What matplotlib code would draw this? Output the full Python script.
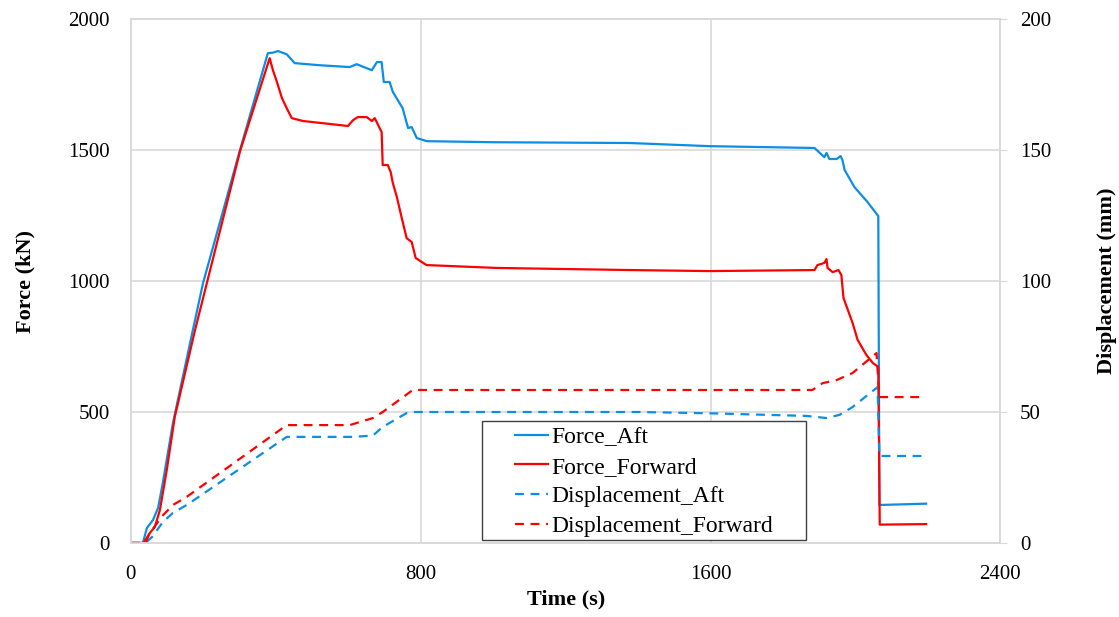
import matplotlib.pyplot as plt
from matplotlib.patches import Rectangle

plt.rcParams['font.family'] = ['Liberation Serif', 'DejaVu Serif']

# Force (kN) vs time (s)
t_force_aft = [0, 33, 44, 61, 75, 88, 116, 171, 199, 301, 378, 392, 406, 430, 452, 521, 604,
               623, 665, 679, 692, 698, 714, 723, 750, 765, 775, 789, 817, 1000, 1377, 1597,
               1887, 1914, 1920, 1928, 1948, 1959, 1964, 1970, 1997, 2033, 2063, 2066, 2195]
force_aft = [0, 0, 57, 88, 134, 229, 458, 813, 992, 1500, 1870, 1872, 1878, 1866, 1832, 1824, 1817,
             1828, 1805, 1836, 1836, 1760, 1760, 1722, 1660, 1584, 1588, 1546, 1534, 1530, 1527, 1515,
             1508, 1473, 1489, 1466, 1466, 1477, 1462, 1424, 1359, 1302, 1248, 145, 150]

t_force_fwd = [0, 35, 52, 66, 80, 99, 121, 177, 301, 383, 392, 403, 417, 430, 444, 475, 599, 613,
               626, 651, 665, 673, 692, 695, 709, 717, 723, 734, 747, 761, 775, 786, 816, 1010,
               1377, 1597, 1887, 1895, 1914, 1920, 1923, 1937, 1953, 1961, 1967, 1992, 2006, 2030,
               2048, 2063, 2067, 2195]
force_fwd = [0, 0, 38, 61, 126, 279, 481, 813, 1495, 1851, 1805, 1760, 1698, 1660, 1622, 1611, 1592, 1614,
             1626, 1626, 1611, 1622, 1569, 1443, 1443, 1416, 1374, 1321, 1244, 1164, 1149, 1088, 1061, 1050,
             1042, 1038, 1042, 1061, 1069, 1084, 1050, 1034, 1042, 1023, 935, 840, 775, 718,
             687, 672, 70, 72]

# Displacement (mm) vs time (s)
t_disp_aft = [0, 40, 60, 88, 116, 154, 430, 612, 668, 695, 761, 778, 1400, 1600, 1865, 1920, 1956,
              1992, 2061, 2066, 2182]
disp_aft = [0, 0, 2.5, 8, 11.5, 14.5, 40.5, 40.5, 41, 44.3, 49.6, 50, 50, 49.5, 48.5, 47.7, 48.9,
            51.9, 59.5, 33.2, 33.2]

t_disp_fwd = [0, 40, 52, 88, 116, 154, 430, 604, 668, 695, 778, 1881, 1909, 1948, 1992, 2058,
              2066, 2193]
disp_fwd = [0, 0, 3.8, 10.5, 14.5, 17.6, 45, 45, 47.7, 50, 58.4, 58.4, 61, 62.2, 64.9, 72.5,
            55.7, 55.7]

blue = '#0a8ee6'
red = '#ff0000'
grid_c = '#d9d9d9'

fig = plt.figure(figsize=(11.19, 6.17), dpi=100)
ax = fig.add_axes([0.117, 0.120, 0.777, 0.849])
ax2 = ax.twinx()

l1, = ax.plot(t_force_aft, force_aft, color=blue, lw=1.6, label='Force_Aft')
l2, = ax.plot(t_force_fwd, force_fwd, color=red, lw=1.6, label='Force_Forward')
l3, = ax2.plot(t_disp_aft, disp_aft, color=blue, lw=1.6, ls=(0, (4, 3)), label='Displacement_Aft')
l4, = ax2.plot(t_disp_fwd, disp_fwd, color=red, lw=1.6, ls=(0, (4, 3)), label='Displacement_Forward')

ax.set_xlim(0, 2400)
ax.set_ylim(0, 2000)
ax2.set_ylim(0, 200)
ax.set_xticks([0, 800, 1600, 2400])
ax.set_yticks([0, 500, 1000, 1500, 2000])
ax2.set_yticks([0, 50, 100, 150, 200])

ax.grid(True, color=grid_c, lw=1.2)
ax.set_axisbelow(True)
for a in (ax, ax2):
    for s in a.spines.values():
        s.set_color(grid_c)
        s.set_linewidth(1.2)
ax.tick_params(axis='y', length=0, labelsize=15, pad=15)
ax.tick_params(axis='x', length=0, labelsize=15, pad=16)
ax2.tick_params(axis='y', length=5, color=grid_c, labelsize=15, pad=9)

ax.set_xlabel('Time (s)', fontsize=16, fontweight='bold', labelpad=4)
ax.set_ylabel('Force (kN)', fontsize=16, fontweight='bold', labelpad=24)
ax2.set_ylabel('Displacement (mm)', fontsize=16, fontweight='bold', labelpad=33)

# legend box drawn separately so its padding matches the original
ax2.add_patch(Rectangle((0.404, 0.006), 0.373, 0.227, transform=ax2.transAxes,
                        facecolor='white', edgecolor='#404040', lw=1.0, zorder=4))
leg = ax2.legend(handles=[l1, l2, l3, l4], loc='center left', bbox_to_anchor=(0.442, 0.117),
                 fontsize=17, frameon=False, handlelength=1.4,
                 handletextpad=0.15, labelspacing=0.34, borderpad=0, borderaxespad=0)
leg.set_zorder(5)

fig.savefig('out.png', dpi=100)
